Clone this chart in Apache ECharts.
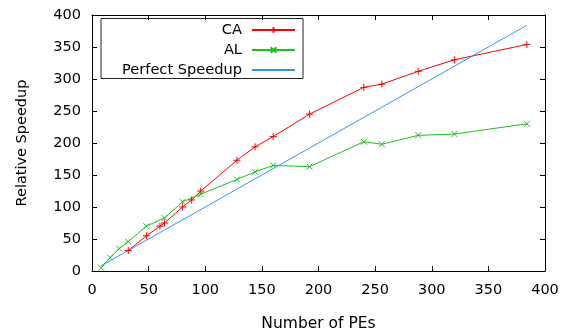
<!DOCTYPE html>
<html>
<head>
<meta charset="utf-8">
<script src="https://cdn.jsdelivr.net/npm/echarts@6/dist/echarts.min.js"></script>
<style>
  html, body {margin: 0; padding: 0; background: #fff;}
  #chart {width: 569px; height: 331px;}
</style>
</head>
<body>
<div id="chart"></div>
<script>
// values
const caPEs = [32, 48, 60, 64, 80, 88, 96, 128, 144, 160, 192, 240, 256, 288, 320, 384];
const caSpeedup = [32, 55, 70, 75, 100, 111, 125, 173, 194, 210, 245, 287, 292, 312, 330, 354];
const alPEs = [8, 16, 24, 32, 48, 64, 80, 96, 128, 144, 160, 192, 240, 256, 288, 320, 384];
const alSpeedup = [5, 21, 35, 46, 70, 83, 108, 120, 143, 155, 165, 163, 202, 198, 212, 214, 230];
const perfectPEs = [8, 384];
const perfectSpeedup = [8, 384];
const seriesNames = ['CA', 'AL', 'Perfect Speedup'];

const font = 'DejaVu Sans';
const pairs = (xs, ys) => xs.map((x, i) => [x, ys[i]]);

const plus = 'path://M0,5L10,5M5,0L5,10';
const cross = 'path://M0,0L10,10M10,0L0,10';

const legendAt = (item, top) => ({
  data: [item],
  orient: 'vertical',
  align: 'right',
  right: 273,
  top: top,
  padding: 0,
  itemWidth: 43,
  itemHeight: 7,
  textStyle: {fontFamily: font, fontSize: 14.6, color: '#000', padding: [0, 5, 0, 0]},
});

const valueAxis = (extra) => Object.assign({
  type: 'value',
  min: 0,
  max: 400,
  interval: 50,
  splitLine: {show: false},
  axisLine: {show: true, onZero: false, lineStyle: {color: '#000', width: 1}},
  axisTick: {show: true, inside: true, length: 5, lineStyle: {color: '#000'}},
  axisLabel: {show: false},
}, extra);

const labelStyle = {show: true, fontFamily: font, fontSize: 14.5, color: '#000'};

const myChart = echarts.init(document.getElementById('chart'));
myChart.setOption({
  animation: false,
  backgroundColor: '#fff',
  grid: {left: 92, right: 24, top: 15, bottom: 60, containLabel: false, outerBoundsMode: 'none'},
  legend: [
    legendAt(seriesNames[0], 22.5),
    legendAt(seriesNames[1], 42.5),
    legendAt({name: seriesNames[2], itemStyle: {opacity: 0}}, 62.5),
  ],
  graphic: [{
    type: 'rect',
    shape: {x: 101, y: 18.5, width: 202, height: 60},
    style: {fill: 'none', stroke: '#222', lineWidth: 1},
    z: 10,
  }],
  xAxis: [
    valueAxis({
      position: 'bottom',
      axisLabel: Object.assign({margin: 12}, labelStyle),
      name: 'Number of PEs',
      nameLocation: 'middle',
      nameGap: 45,
      nameTextStyle: {fontFamily: font, fontSize: 15.5, color: '#000'},
    }),
    valueAxis({position: 'top'}),
  ],
  yAxis: [
    valueAxis({
      position: 'left',
      axisLabel: Object.assign({margin: 11}, labelStyle),
      name: 'Relative Speedup',
      nameLocation: 'middle',
      nameGap: 62,
      nameTextStyle: {fontFamily: font, fontSize: 14.5, color: '#000'},
    }),
    valueAxis({position: 'right'}),
  ],
  series: [
    {
      name: seriesNames[0],
      type: 'line',
      data: pairs(caPEs, caSpeedup),
      symbol: plus,
      symbolSize: 7,
      color: '#ff0000',
      lineStyle: {color: '#ff0000', width: 1},
      itemStyle: {color: '#ff0000', borderColor: '#ff0000', borderWidth: 1},
    },
    {
      name: seriesNames[1],
      type: 'line',
      data: pairs(alPEs, alSpeedup),
      symbol: cross,
      symbolSize: 6,
      color: '#1ec01e',
      lineStyle: {color: '#1ec01e', width: 1},
      itemStyle: {color: '#1ec01e', borderColor: '#1ec01e', borderWidth: 1},
    },
    {
      name: seriesNames[2],
      type: 'line',
      data: pairs(perfectPEs, perfectSpeedup),
      symbol: 'none',
      color: '#2f95f5',
      lineStyle: {color: '#2f95f5', width: 1},
    },
  ],
});
</script>
</body>
</html>
